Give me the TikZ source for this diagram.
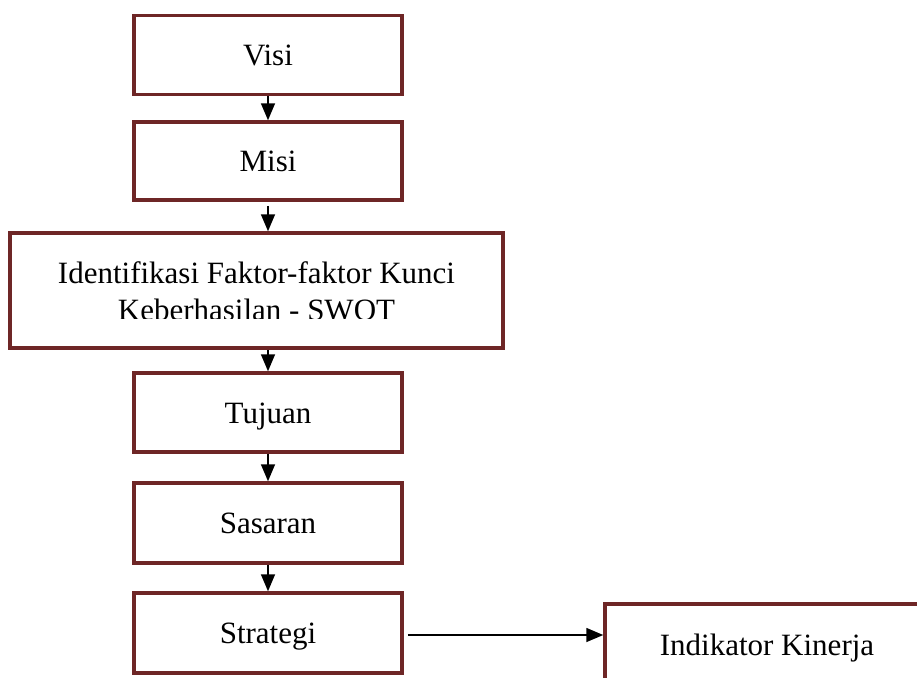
\documentclass[tikz,border=0pt]{standalone}
\usepackage{fontspec}
\setmainfont{Liberation Serif}
\usetikzlibrary{arrows.meta}
\definecolor{boxred}{RGB}{110,38,38}
\begin{document}
\begin{tikzpicture}[x=1pt,y=-1pt,
  box/.style={draw=boxred,line width=3.5pt,fill=white,inner sep=0pt,
    minimum width=268pt,minimum height=79pt,
    text height=21.5pt,text depth=0pt,
    font=\fontsize{31}{37}\selectfont,align=center},
  conn/.style={line width=1.6pt,-{Triangle[length=17pt,width=14pt]}}]
\useasboundingbox (0,0) rectangle (917,677);
\clip (0,0) rectangle (917,677);
\node[box] (visi) at (268,55) {Visi};
\node[box,minimum height=78pt] (misi) at (268,161) {Misi};
\node[box,minimum width=493pt,minimum height=115pt,text height=0pt] (ident) at (256.5,290.5) {};
\begin{scope}
  \clip (0,233) rectangle (917,318.5);
  \node[font=\fontsize{31}{37}\selectfont,align=center,inner sep=0pt] (identtxt) at (256.5,291.5)
    {Identifikasi Faktor-faktor Kunci\\Keberhasilan - SWOT};
\end{scope}
\node[box] (tujuan) at (268,412.5) {Tujuan};
\node[box,minimum height=80pt] (sasaran) at (268,523) {Sasaran};
\node[box,minimum height=80pt] (strategi) at (268,633) {Strategi};
\node[box,minimum width=324pt,minimum height=82pt] (indikator) at (767,645) {Indikator Kinerja};
\draw[conn] (visi.south) -- (misi.north);
\draw[conn,shorten <=4pt] (misi.south) -- (misi.south |- ident.north);
\draw[conn] (tujuan.north |- ident.south) -- (tujuan.north);
\draw[conn] (tujuan.south) -- (sasaran.north);
\draw[conn] (sasaran.south) -- (strategi.north);
\draw[conn,shorten <=4pt] (strategi.east |- 0,635) -- (indikator.west |- 0,635);
\end{tikzpicture}
\end{document}
